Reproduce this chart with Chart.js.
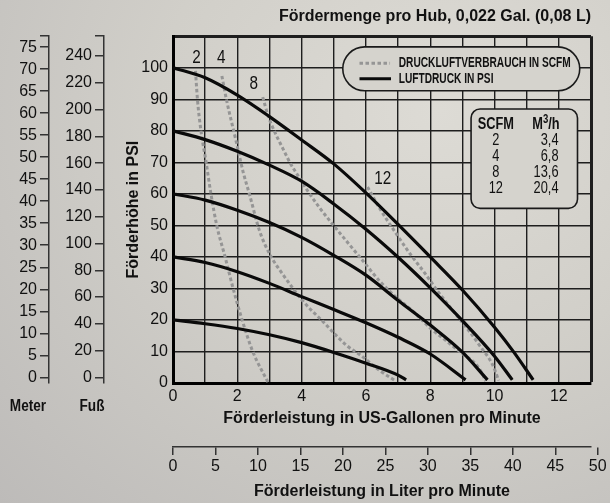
<!DOCTYPE html>
<html>
<head>
<meta charset="utf-8">
<script src="https://cdn.jsdelivr.net/npm/chart.js@4.4.1/dist/chart.umd.min.js"></script>
<style>
html, body { margin: 0; padding: 0; }
body { width: 610px; height: 503px; background: radial-gradient(ellipse at 72% 22%, #dddbd5 0%, #d1cfc9 45%, #bdbbb9 100%); }
canvas { display: block; }
</style>
</head>
<body>
<canvas id="pumpChart" width="610" height="503"></canvas>
<script>
// Luftdruck-Kurven (PSI), x = US-Gallonen pro Minute, y = Förderhöhe PSI
var psi100X = [0, 1, 2, 3, 4, 5, 6, 7, 8, 9, 10, 10.6, 11.2];
var psi100Y = [100, 96.8, 91.3, 84.5, 77.1, 69.5, 60.3, 50.3, 40, 29.5, 17.7, 9.8, 1];
var psi80X = [0, 1, 2, 3, 4, 5, 6, 7, 8, 9, 10, 10.55];
var psi80Y = [80, 77.2, 73.5, 69.1, 64, 56.8, 48.8, 39.9, 30.2, 19.8, 8.5, 1];
var psi60X = [0, 1, 2, 3, 4, 5, 6, 7, 8, 9, 9.78];
var psi60Y = [60, 58, 54.8, 50.9, 46.2, 40.5, 34.2, 26.2, 18.4, 9.8, 1];
var psi40X = [0, 1, 2, 3, 4, 5, 6, 7, 8, 9.1];
var psi40Y = [40, 38.2, 35.3, 31.6, 27.4, 23.3, 19.1, 14.5, 9.2, 1];
var psi20X = [0, 1, 2, 3, 4, 5, 6, 7, 7.25];
var psi20Y = [20, 18.8, 17.3, 15.3, 12.8, 9.7, 6.3, 2.5, 1];

// Druckluftverbrauch (SCFM)
var scfm2X = [0.70, 0.76, 0.87, 1.03, 1.18, 1.36, 1.62, 1.87, 2.15, 2.48, 2.95];
var scfm2Y = [99, 90, 80, 70, 60, 50, 40, 30, 20, 10, 0.3];
var scfm4X = [1.52, 1.66, 1.97, 2.18, 2.38, 2.69, 3.0, 3.42, 4.04, 4.66, 5.39, 5.91, 6.42, 6.9];
var scfm4Y = [97.4, 90, 76.4, 67, 59.8, 48.3, 41, 34.4, 26, 19.5, 12, 8.2, 4, 0.8];
var scfm8X = [2.79, 2.95, 3.16, 3.41, 3.67, 3.93, 4.19, 4.55, 4.96, 5.38, 5.87, 6.42, 6.94, 7.45, 7.97, 8.48, 9.0, 9.41, 9.62, 9.72];
var scfm8Y = [90.7, 85, 79.7, 74.5, 69.3, 65.1, 60.9, 55.7, 50.4, 45.2, 39.2, 32.4, 27.2, 22.9, 17.7, 13.5, 9.3, 6.1, 2.9, 0.6];
var scfm12X = [6.05, 6.45, 6.9, 7.37, 7.82, 8.24, 8.7, 9.17, 9.6, 9.93, 10.13];
var scfm12Y = [62.2, 55, 48, 41, 35, 29, 23, 17, 11, 6, 0.8];

var scfmLabels = ['2', '4', '8', '12'];
var scfmLabelX = [0.73, 1.5, 2.51, 6.52];
var scfmLabelY = [103, 103, 94.7, 64.8];

// Umrechnungstabelle
var tableScfm = ['2', '4', '8', '12'];
var tableM3h = ['3,4', '6,8', '13,6', '20,4'];

// Achsen
var gpmTicks = [0, 2, 4, 6, 8, 10, 12];
var literTicks = [0, 5, 10, 15, 20, 25, 30, 35, 40, 45, 50];
var meterTicks = [0, 5, 10, 15, 20, 25, 30, 35, 40, 45, 50, 55, 60, 65, 70, 75];
var fussTicks = [0, 20, 40, 60, 80, 100, 120, 140, 160, 180, 200, 220, 240];

var FONT = "'Liberation Sans', Arial, sans-serif";
var BG = '#d5d3cd';

function pts(xs, ys) {
  return xs.map(function (v, i) { return { x: v, y: ys[i] }; });
}

function solid(xs, ys) {
  return { data: pts(xs, ys), borderColor: '#0a0a0a', borderWidth: 3.2, pointRadius: 0, showLine: true, cubicInterpolationMode: 'monotone' };
}
function dashed(xs, ys) {
  return { data: pts(xs, ys), borderColor: '#959595', borderWidth: 3, borderDash: [3.5, 2.5], pointRadius: 0, showLine: true, cubicInterpolationMode: 'monotone' };
}

function pill(ctx, x1, y1, x2, y2, r) {
  ctx.beginPath();
  ctx.moveTo(x1 + r, y1);
  ctx.lineTo(x2 - r, y1);
  ctx.arcTo(x2, y1, x2, y1 + r, r);
  ctx.lineTo(x2, y2 - r);
  ctx.arcTo(x2, y2, x2 - r, y2, r);
  ctx.lineTo(x1 + r, y2);
  ctx.arcTo(x1, y2, x1, y2 - r, r);
  ctx.lineTo(x1, y1 + r);
  ctx.arcTo(x1, y1, x1 + r, y1, r);
  ctx.closePath();
}

// schmale Schrift nachbilden: Text horizontal stauchen
function narrow(ctx, text, px, py, align, sx) {
  ctx.save();
  ctx.translate(px, py);
  ctx.scale(sx, 1);
  ctx.textAlign = align;
  ctx.fillText(text, 0, 0);
  ctx.restore();
}

var annotations = {
  id: 'annotations',
  afterDatasetsDraw: function (chart) {
    var ctx = chart.ctx;
    var x = chart.scales.x, y = chart.scales.y;
    ctx.save();
    ctx.textBaseline = 'middle';

    // Kurvenbeschriftung
    ctx.fillStyle = '#111';
    ctx.font = '18px ' + FONT;
    scfmLabels.forEach(function (t, i) {
      narrow(ctx, t, x.getPixelForValue(scfmLabelX[i]), y.getPixelForValue(scfmLabelY[i]), 'center', 0.85);
    });

    // Legende
    var lx1 = x.getPixelForValue(5.28), lx2 = x.getPixelForValue(12.65);
    var ly1 = y.getPixelForValue(106.6), ly2 = y.getPixelForValue(92.7);
    pill(ctx, lx1, ly1, lx2, ly2, (ly2 - ly1) / 2);
    ctx.fillStyle = BG;
    ctx.fill();
    ctx.lineWidth = 1.6;
    ctx.strokeStyle = '#1a1a1a';
    ctx.stroke();

    var r1 = y.getPixelForValue(101.4), r2 = y.getPixelForValue(96.5);
    ctx.beginPath();
    ctx.setLineDash([3.5, 2.5]);
    ctx.strokeStyle = '#959595';
    ctx.lineWidth = 3;
    ctx.moveTo(x.getPixelForValue(5.8), r1);
    ctx.lineTo(x.getPixelForValue(6.75), r1);
    ctx.stroke();
    ctx.setLineDash([]);
    ctx.beginPath();
    ctx.strokeStyle = '#0a0a0a';
    ctx.lineWidth = 3.2;
    ctx.moveTo(x.getPixelForValue(5.8), r2);
    ctx.lineTo(x.getPixelForValue(6.78), r2);
    ctx.stroke();

    ctx.fillStyle = '#111';
    ctx.font = 'bold 14.5px ' + FONT;
    var lsx = 172 / ctx.measureText('DRUCKLUFTVERBRAUCH IN SCFM').width;
    narrow(ctx, 'DRUCKLUFTVERBRAUCH IN SCFM', x.getPixelForValue(7.02), r1, 'left', lsx);
    narrow(ctx, 'LUFTDRUCK IN PSI', x.getPixelForValue(7.02), r2, 'left', lsx);

    // Tabelle
    var tx1 = x.getPixelForValue(9.27), tx2 = x.getPixelForValue(12.58);
    var ty1 = y.getPixelForValue(86.9), ty2 = y.getPixelForValue(55.4);
    pill(ctx, tx1, ty1, tx2, ty2, 9);
    ctx.fillStyle = BG;
    ctx.fill();
    ctx.lineWidth = 1.6;
    ctx.strokeStyle = '#1a1a1a';
    ctx.stroke();

    var sq = 0.8;
    var c1 = x.getPixelForValue(10.04), c2 = x.getPixelForValue(11.99);
    var hy = y.getPixelForValue(81.9);
    ctx.fillStyle = '#111';
    ctx.font = 'bold 16px ' + FONT;
    narrow(ctx, 'SCFM', c1, hy, 'center', sq);
    // M³/h mit hochgestellter 3
    var mW = ctx.measureText('M').width * sq, hW = ctx.measureText('/h').width * sq;
    ctx.font = 'bold 12px ' + FONT;
    var sW = ctx.measureText('3').width * sq;
    var hx = x.getPixelForValue(11.6) - (mW + sW + hW) / 2;
    ctx.font = 'bold 16px ' + FONT;
    narrow(ctx, 'M', hx, hy, 'left', sq);
    ctx.font = 'bold 12px ' + FONT;
    narrow(ctx, '3', hx + mW, hy - 5, 'left', sq);
    ctx.font = 'bold 16px ' + FONT;
    narrow(ctx, '/h', hx + mW + sW, hy, 'left', sq);

    var rowY = [76.9, 71.7, 66.6, 61.7];
    ctx.font = '16px ' + FONT;
    rowY.forEach(function (v, i) {
      var py = y.getPixelForValue(v);
      narrow(ctx, tableScfm[i], c1, py, 'center', sq);
      narrow(ctx, tableM3h[i], c2, py, 'right', sq);
    });

    // Einheiten unter den linken Skalen
    ctx.font = 'bold 16px ' + FONT;
    narrow(ctx, 'Meter', 28, 407, 'center', 0.85);
    narrow(ctx, 'Fuß', 92, 407, 'center', 0.85);
    ctx.restore();
  }
};

var datasets = [
  solid(psi100X, psi100Y), solid(psi80X, psi80Y), solid(psi60X, psi60Y), solid(psi40X, psi40Y), solid(psi20X, psi20Y),
  dashed(scfm2X, scfm2Y), dashed(scfm4X, scfm4Y), dashed(scfm8X, scfm8Y), dashed(scfm12X, scfm12Y)
];

Chart.defaults.font.family = FONT;
Chart.defaults.color = '#111';

var tickFont = { size: 16 };
var gridColor = '#1e1e1e';

var pumpChart = new Chart(document.getElementById('pumpChart').getContext('2d'), {
  type: 'scatter',
  data: { datasets: datasets },
  options: {
    responsive: false,
    animation: false,
    layout: { padding: { left: 0, right: 19, top: 0, bottom: 0 } },
    plugins: {
      legend: { display: false },
      tooltip: { enabled: false },
      title: {
        display: true,
        text: 'Fördermenge pro Hub, 0,022 Gal. (0,08 L)',
        align: 'end',
        color: '#111',
        font: { size: 16, weight: 'bold' },
        padding: { top: 7, bottom: 10 }
      }
    },
    scales: {
      x: {
        type: 'linear', position: 'bottom', min: 0, max: 13, weight: 0,
        afterFit: function (s) { s.height = 64; },
        ticks: { stepSize: 1, font: tickFont, padding: 4, autoSkip: false, maxRotation: 0,
          callback: function (v) { return gpmTicks.indexOf(v) >= 0 ? v : ''; } },
        grid: { color: gridColor, lineWidth: function (c) { return c.tick && c.tick.value === 13 ? 3 : 1.4; }, drawTicks: false },
        border: { color: '#000', width: 3 },
        title: { display: true, text: 'Förderleistung in US-Gallonen pro Minute', font: { size: 16, weight: 'bold' }, padding: { top: 0, bottom: 19 } }
      },
      xL: {
        type: 'linear', position: 'bottom', min: 0, max: 13 * 3.785, weight: 1,
        afterFit: function (s) { s.height = 56; },
        afterBuildTicks: function (s) { s.ticks = literTicks.map(function (v) { return { value: v }; }); },
        ticks: { font: tickFont, padding: 2, autoSkip: false, maxRotation: 0 },
        grid: { drawOnChartArea: false, drawTicks: true, tickLength: 8, color: '#333', lineWidth: 1.5 },
        border: { color: '#333', width: 1.5 },
        title: { display: true, text: 'Förderleistung in Liter pro Minute', font: { size: 16, weight: 'bold' }, padding: { top: 0, bottom: 2 } }
      },
      y: {
        type: 'linear', position: 'left', min: 0, max: 110, weight: 0,
        afterFit: function (s) { s.width = 69; },
        ticks: { stepSize: 10, font: tickFont, padding: 5,
          callback: function (v) { return v <= 100 ? v : ''; } },
        grid: { color: gridColor, lineWidth: function (c) { return c.tick && c.tick.value === 110 ? 3 : 1.4; }, drawTicks: false },
        border: { color: '#000', width: 3 },
        title: { display: true, text: 'Förderhöhe in PSI', font: { size: 16, weight: 'bold' }, padding: { top: 20, bottom: 0 } }
      },
      yF: {
        type: 'linear', position: 'left', min: -4.2, max: 254.8, weight: 1,
        afterFit: function (s) { s.width = 55; },
        afterBuildTicks: function (s) { s.ticks = fussTicks.concat([254.8]).map(function (v) { return { value: v }; }); },
        ticks: { font: tickFont, padding: 3, autoSkip: false,
          callback: function (v) { return fussTicks.indexOf(v) >= 0 ? v : ''; } },
        grid: { drawOnChartArea: false, drawTicks: true, tickLength: 9, color: '#333', lineWidth: 1.5 },
        border: { color: '#333', width: 1.5 }
      },
      yM: {
        type: 'linear', position: 'left', min: -1.3, max: 77.5, weight: 2,
        afterFit: function (s) { s.width = 49; },
        afterBuildTicks: function (s) { s.ticks = meterTicks.concat([77.5]).map(function (v) { return { value: v }; }); },
        ticks: { font: tickFont, padding: 3, autoSkip: false,
          callback: function (v) { return meterTicks.indexOf(v) >= 0 ? v : ''; } },
        grid: { drawOnChartArea: false, drawTicks: true, tickLength: 9, color: '#333', lineWidth: 1.5 },
        border: { color: '#333', width: 1.5 }
      }
    }
  },
  plugins: [annotations]
});
</script>
</body>
</html>
